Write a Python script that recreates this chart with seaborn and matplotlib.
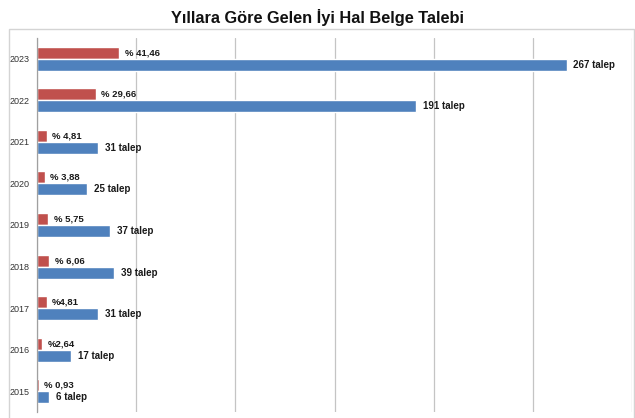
import matplotlib
matplotlib.use("Agg")
import matplotlib.pyplot as plt
from matplotlib.patches import Rectangle
from matplotlib.ticker import MultipleLocator, FixedLocator
import pandas as pd
import seaborn as sns

years = ["2023", "2022", "2021", "2020", "2019", "2018", "2017", "2016", "2015"]
yuzde = [41.46, 29.66, 4.81, 3.88, 5.75, 6.06, 4.81, 2.64, 0.93]
talep = [267, 191, 31, 25, 37, 39, 31, 17, 6]
yuzde_etiket = ["% 41,46", "% 29,66", "% 4,81", "% 3,88", "% 5,75", "% 6,06",
                "%4,81", "%2,64", "% 0,93"]
talep_etiket = [f"{t} talep" for t in talep]

df = pd.DataFrame({
    "yil": years * 2,
    "tur": ["yuzde"] * len(years) + ["talep"] * len(years),
    "deger": yuzde + talep,
})

sns.set_style("white")
plt.rcParams["font.family"] = ["Liberation Sans", "DejaVu Sans"]

fig = plt.figure(figsize=(6.35, 4.18), dpi=100)
ax = fig.add_axes([37 / 635, 1 - 412 / 418, 595 / 635, 374 / 418])

sns.barplot(data=df, y="yil", x="deger", hue="tur", order=years,
            hue_order=["yuzde", "talep"], palette=["#C0504D", "#4F81BD"],
            orient="h", width=0.58, dodge=True, gap=0, legend=False, ax=ax,
            saturation=1)

ax.bar_label(ax.containers[0], labels=yuzde_etiket, padding=4,
             fontsize=6.8, fontweight="bold", color="#1a1a1a")
ax.bar_label(ax.containers[1], labels=talep_etiket, padding=5,
             fontsize=7, fontweight="bold", color="#1a1a1a")

ax.set_xlim(0, 300)
ax.set_ylim(8.5, -0.5)
ax.xaxis.set_major_locator(MultipleLocator(50))
ax.grid(axis="x", color="#c4c4c4", linewidth=0.9)
ax.set_axisbelow(True)
ax.tick_params(axis="x", length=0, labelbottom=False)
ax.tick_params(axis="y", which="major", length=0, pad=5, labelsize=6.5,
               labelcolor="#333333")
ax.yaxis.set_minor_locator(FixedLocator([i - 0.5 for i in range(len(years) + 1)]))
ax.tick_params(axis="y", which="minor", length=3, width=0.8, color="#a0a0a0",
               direction="out")
ax.set_xlabel("")
ax.set_ylabel("")
for s in ["top", "right", "bottom"]:
    ax.spines[s].set_visible(False)
ax.spines["left"].set_color("#a0a0a0")
ax.spines["left"].set_linewidth(0.9)

fig.patches.append(Rectangle((9 / 635, -0.01), 625 / 635, 1 - 29 / 418 + 0.01,
                             transform=fig.transFigure, fill=False,
                             edgecolor="#d4d4d4", linewidth=1))

fig.text(0.5, 1 - 17 / 418, "Yıllara Göre Gelen İyi Hal Belge Talebi",
         ha="center", va="center", fontsize=11.8, fontweight="bold",
         color="#111111")

fig.savefig("out.png", dpi=100)
